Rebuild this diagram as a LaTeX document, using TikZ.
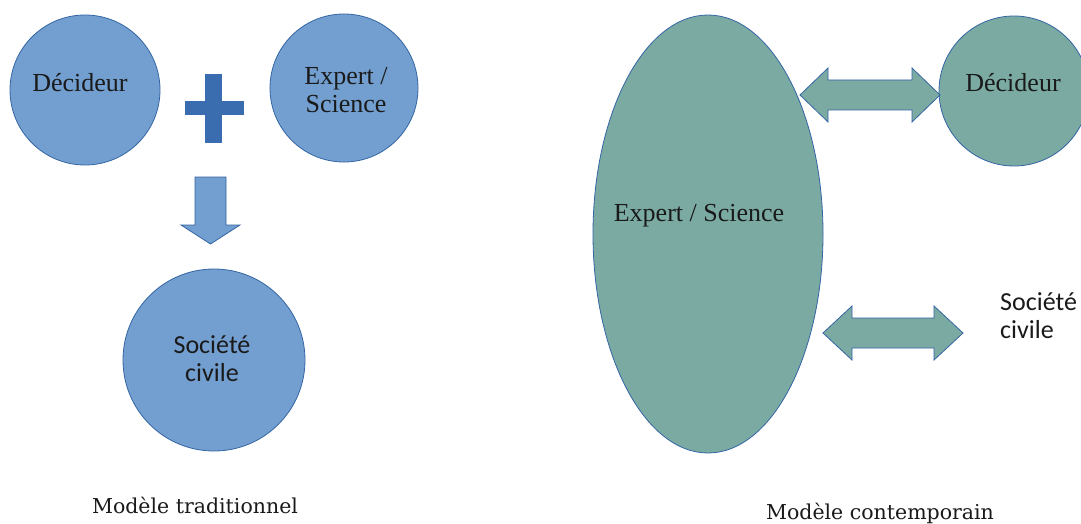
\documentclass[tikz,border=0pt]{standalone}
\usepackage{fontspec}
\setmainfont{Liberation Serif}
\newfontfamily\carl{Carlito}
\newfontfamily\dvs{DejaVu Serif}
\usetikzlibrary{shapes.geometric}
\definecolor{bluefill}{HTML}{729FCF}
\definecolor{blueline}{HTML}{3465A4}
\definecolor{plusblue}{HTML}{3A6DB0}
\definecolor{tealfill}{HTML}{7AAAA2}
\definecolor{txt}{HTML}{1A1A1A}
\begin{document}
\begin{tikzpicture}[x=1pt,y=-1pt,
 bluecirc/.style={circle,draw=blueline,fill=bluefill,line width=0.8pt,inner sep=0pt},
 tealshape/.style={draw=blueline,fill=tealfill,line width=0.8pt,inner sep=0pt},
 bluearrow/.style={draw=blueline,fill=bluefill,line width=0.8pt,line join=miter},
 tealarrow/.style={draw=blueline,fill=tealfill,line width=0.8pt,line join=miter},
 serifbig/.style={font=\fontsize{26}{28}\selectfont, text=txt, align=center, inner sep=0pt},
 sansbig/.style={font=\carl\fontsize{26}{28}\selectfont, text=txt, inner sep=0pt},
 captiontext/.style={font=\dvs\fontsize{20.5}{23}\selectfont, text=txt, inner sep=0pt}]
\useasboundingbox (0,0) rectangle (1081,524);
\fill[white] (0,0) rectangle (1081,524);
\begin{scope}
\clip (0,0) rectangle (1081,524);
% ---------- traditional model ----------
\node[bluecirc, minimum size=150pt] (decA) at (85,90) {};
\node[serifbig] (decAt) at (80,83) {Décideur};
\node[bluecirc, minimum size=148pt] (expA) at (344,88) {};
\node[serifbig] (expAt) at (346,90) {Expert /\\Science};
\fill[plusblue] (205,74) rectangle (222,143);
\fill[plusblue] (185,101) rectangle (244,115);
\draw[bluearrow] (195,177) -- (226,177) -- (226,225) -- (240,225) -- (210.5,244) -- (181,225) -- (195,225) -- cycle;
\node[bluecirc, minimum size=182pt] (socA) at (214,360) {};
\node[sansbig, align=center] (socAt) at (212,358.5) {Société\\civile};
\node[captiontext] (capA) at (195,505) {Modèle traditionnel};
% ---------- contemporary model ----------
\node[tealshape, ellipse, minimum width=230pt, minimum height=438pt] (expB) at (708,234) {};
\node[serifbig] (expBt) at (699,216) {Expert / Science};
\node[tealshape, circle, minimum size=150pt] (decB) at (1014,91) {};
\node[serifbig] (decBt) at (1013,83) {Décideur};
\draw[tealarrow] (800,95) -- (828,68) -- (828,80) -- (912,80) -- (912,68) -- (940,95) -- (912,122) -- (912,110) -- (828,110) -- (828,122) -- cycle;
\draw[tealarrow] (823,333) -- (852,306) -- (852,318) -- (934,318) -- (934,306) -- (963,333) -- (934,360) -- (934,348) -- (852,348) -- (852,360) -- cycle;
\node[sansbig, align=left, anchor=west] (socBt) at (1000,315.5) {Société\\civile};
\node[captiontext] (capB) at (880,513) {Modèle contemporain};
\end{scope}
\end{tikzpicture}
\end{document}
